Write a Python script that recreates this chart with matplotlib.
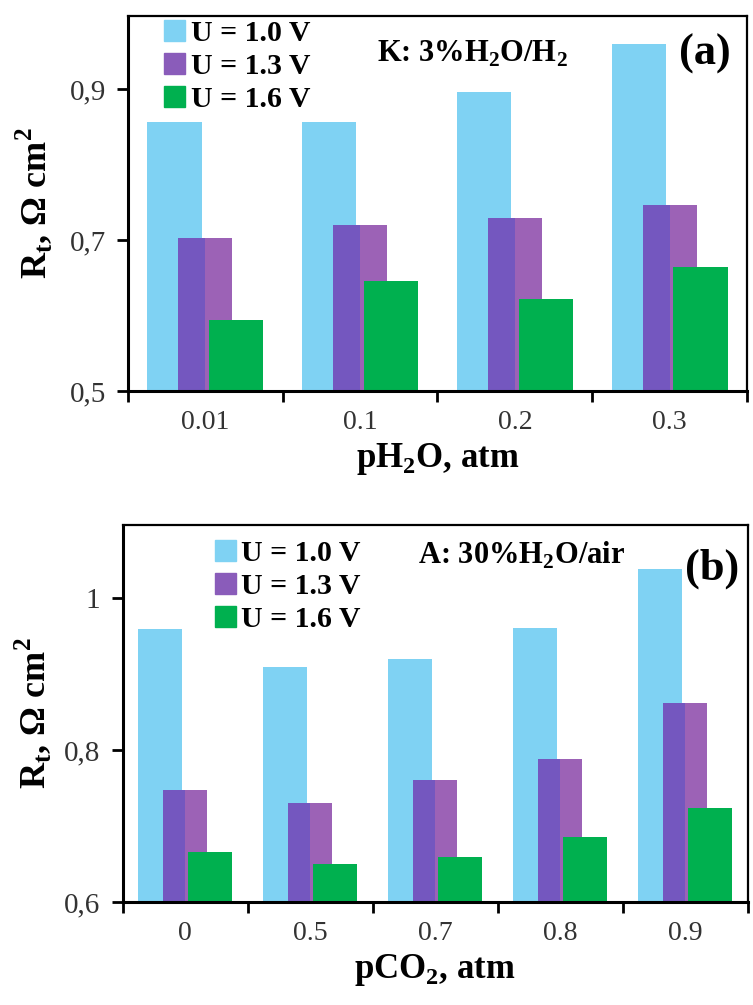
import numpy as np
import matplotlib.pyplot as plt
from matplotlib.patches import Patch

plt.rcParams['font.family'] = ['Liberation Serif', 'DejaVu Serif']
plt.rcParams['mathtext.fontset'] = 'custom'
plt.rcParams['mathtext.rm'] = 'Liberation Serif'
plt.rcParams['mathtext.bf'] = 'Liberation Serif:bold'

# panel (a): pH2O
ph2o_labels = ['0.01', '0.1', '0.2', '0.3']
a_u10 = [0.856, 0.856, 0.897, 0.960]
a_u13 = [0.703, 0.720, 0.729, 0.746]
a_u16 = [0.594, 0.646, 0.622, 0.664]

# panel (b): pCO2
pco2_labels = ['0', '0.5', '0.7', '0.8', '0.9']
b_u10 = [0.959, 0.909, 0.920, 0.961, 1.038]
b_u13 = [0.747, 0.730, 0.760, 0.788, 0.862]
b_u16 = [0.666, 0.650, 0.659, 0.686, 0.724]

series_names = ['U = 1.0 V', 'U = 1.3 V', 'U = 1.6 V']
c_blue = '#7fd2f3'
c_purp_l = '#7457bf'
c_purp_r = '#9c62b6'
c_purp = '#8a5cba'
c_green = '#00b04f'

w = 0.35
off = 0.2


def draw_panel(ax, labels, v1, v2, v3, ylim, yticks, yticklabels, xlabel, note, tag,
               leg_xy, note_xy, tag_xy, ylab_x):
    x = np.arange(len(labels))
    ax.bar(x - off, v1, w, color=c_blue)
    # purple bars are shaded: darker left half, lighter right half
    ax.bar(x - w / 4, v2, w / 2, color=c_purp_l)
    ax.bar(x + w / 4, v2, w / 2, color=c_purp_r)
    ax.bar(x + off, v3, w, color=c_green)
    ax.set_ylim(*ylim)
    ax.set_xlim(-0.5, len(labels) - 0.5)
    ax.set_yticks(yticks)
    ax.set_yticklabels(yticklabels, fontsize=21, color='#333333')
    ax.set_xticks(x)
    ax.set_xticklabels(labels, fontsize=20, color='#333333')
    ax.set_xticks(np.arange(len(labels) + 1) - 0.5, minor=True)
    ax.tick_params(axis='x', which='major', length=0, pad=14)
    ax.tick_params(axis='x', which='minor', length=8, width=2, direction='out')
    ax.tick_params(axis='y', length=8, width=2, direction='out', pad=8)
    for s in ['left', 'bottom']:
        ax.spines[s].set_linewidth(2.2)
    for s in ['top', 'right']:
        ax.spines[s].set_linewidth(1.6)
    ax.set_ylabel(r'R$_\mathbf{t}$, Ω cm$^\mathbf{2}$', fontsize=26, fontweight='bold')
    ax.yaxis.set_label_coords(ylab_x, 0.5)
    ax.set_xlabel(xlabel, fontsize=25, fontweight='bold', labelpad=4)
    handles = [Patch(color=c_blue), Patch(color=c_purp), Patch(color=c_green)]
    ax.legend(handles, series_names, loc='upper left', bbox_to_anchor=leg_xy,
              frameon=False, prop={'size': 21.5, 'weight': 'bold'},
              handlelength=0.7, handleheight=0.7, handletextpad=0.2,
              labelspacing=0.2, borderaxespad=0, borderpad=0)
    ax.text(note_xy[0], note_xy[1], note, transform=ax.transAxes, fontsize=22,
            fontweight='bold', ha='left', va='center')
    ax.text(tag_xy[0], tag_xy[1], tag, transform=ax.transAxes, fontsize=32,
            fontweight='bold', ha='left', va='center')


fig = plt.figure(figsize=(7.53, 10.05), dpi=100)
ax1 = fig.add_axes([0.170, 0.611, 0.822, 0.373])
ax2 = fig.add_axes([0.163, 0.1025, 0.830, 0.375])

draw_panel(ax1, ph2o_labels, a_u10, a_u13, a_u16, (0.5, 0.997),
           [0.5, 0.7, 0.9], ['0,5', '0,7', '0,9'],
           r'pH$_\mathbf{2}$O, atm', r'K: 3%H$_\mathbf{2}$O/H$_\mathbf{2}$', '(a)',
           (0.058, 0.99), (0.403, 0.9), (0.89, 0.9), -0.118)
draw_panel(ax2, pco2_labels, b_u10, b_u13, b_u16, (0.6, 1.096),
           [0.6, 0.8, 1.0], ['0,6', '0,8', '1'],
           r'pCO$_\mathbf{2}$, atm', r'A: 30%H$_\mathbf{2}$O/air', '(b)',
           (0.147, 0.96), (0.472, 0.92), (0.90, 0.885), -0.11)

fig.savefig('out.png', dpi=100)
